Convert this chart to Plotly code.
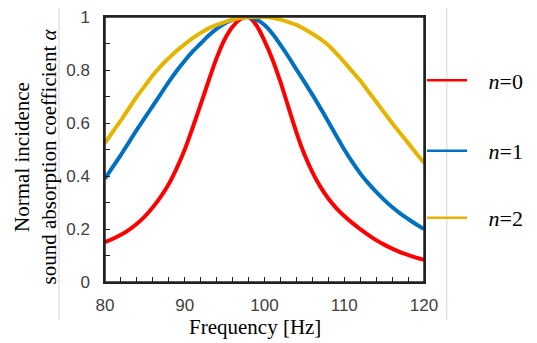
import plotly.graph_objects as go

freq = list(range(80, 121))
alpha_n0 = [0.150, 0.163, 0.178, 0.197, 0.220, 0.248, 0.282, 0.322, 0.370, 0.430,
            0.500, 0.583, 0.670, 0.760, 0.845, 0.915, 0.963, 0.992, 1.000, 0.968,
            0.910, 0.840, 0.755, 0.660, 0.565, 0.482, 0.415, 0.360, 0.315, 0.279,
            0.249, 0.223, 0.200, 0.178, 0.158, 0.141, 0.126, 0.113, 0.102, 0.092,
            0.084]
alpha_n1 = [0.390, 0.435, 0.480, 0.527, 0.575, 0.620, 0.665, 0.710, 0.755, 0.797,
            0.835, 0.870, 0.900, 0.930, 0.955, 0.975, 0.990, 0.998, 0.999, 0.990,
            0.970, 0.937, 0.895, 0.850, 0.802, 0.755, 0.707, 0.657, 0.605, 0.552,
            0.500, 0.453, 0.410, 0.373, 0.340, 0.310, 0.283, 0.259, 0.238, 0.218,
            0.200]
alpha_n2 = [0.525, 0.568, 0.610, 0.655, 0.700, 0.740, 0.780, 0.815, 0.845, 0.873,
            0.897, 0.920, 0.940, 0.957, 0.970, 0.981, 0.990, 0.996, 0.999, 1.000,
            1.000, 0.997, 0.990, 0.981, 0.970, 0.955, 0.937, 0.917, 0.893, 0.863,
            0.830, 0.795, 0.760, 0.720, 0.680, 0.640, 0.600, 0.562, 0.525, 0.487,
            0.450]

series_names = ["\u00a0\u00a0\u00a0<i>n</i>=0", "\u00a0\u00a0\u00a0<i>n</i>=1",
                "\u00a0\u00a0\u00a0<i>n</i>=2"]
series_values = [alpha_n0, alpha_n1, alpha_n2]
colors = ["#FF0000", "#0070C0", "#E5B400"]

x_ticks = [80, 90, 100, 110, 120]
y_ticks = [0, 0.2, 0.4, 0.6, 0.8, 1]

W, H = 537, 343
OFF = 8  # page body margin
# target plot area in page pixels
PL, PR, PT, PB = 105, 424, 17, 282
L = PL - OFF
T = PT - OFF
R = W - (PR - OFF)
B = H - (PB - OFF)
pw, ph = PR - PL, PB - PT


def px_x(p):
    return (p - PL) / pw


def px_y(p):
    return (PB - p) / ph


fig = go.Figure()
legend_ids = ["legend", "legend2", "legend3"]
legend_py = [79.5, 150, 217]

for name, vals, col, lid in zip(series_names, series_values, colors, legend_ids):
    fig.add_trace(go.Scatter(x=freq, y=vals, mode="lines",
                             line=dict(color=col, width=4, shape="spline", smoothing=1),
                             showlegend=False, hoverinfo="skip"))
    fig.add_trace(go.Scatter(x=[None], y=[None], mode="lines", name=name,
                             line=dict(color=col, width=2.5),
                             showlegend=True, legend=lid))

legend_common = dict(
    xref="paper", yref="paper", xanchor="left", yanchor="middle",
    bgcolor="rgba(0,0,0,0)", borderwidth=0,
    font=dict(family="Liberation Serif", size=22, color="#000000"),
    itemwidth=40,
)
layout_legends = {}
for lid, py in zip(legend_ids, legend_py):
    layout_legends[lid] = dict(x=px_x(422), y=px_y(py + 1), **legend_common)

tick_font = dict(family="Liberation Sans", size=17, color="#404040")

fig.update_layout(
    width=W, height=H,
    margin=dict(l=L, r=R, t=T, b=B, autoexpand=False),
    paper_bgcolor="white", plot_bgcolor="white",
    showlegend=True,
    xaxis=dict(range=[80, 120], tickvals=x_ticks, ticks="inside", ticklen=5,
               tickwidth=1.2, tickcolor="#222", showline=True, linecolor="#222",
               linewidth=1.5, mirror=True, showgrid=False, zeroline=False,
               tickfont=tick_font, ticklabelstandoff=7, ticklabeloverflow="allow",
               minor=dict(dtick=2, ticks="inside", ticklen=5, tickcolor="#222",
                          tickwidth=1.2, showgrid=False)),
    yaxis=dict(range=[0, 1], tickvals=y_ticks, ticks="inside", ticklen=5,
               tickwidth=1.2, tickcolor="#222", showline=True, linecolor="#222",
               linewidth=1.5, mirror=True, showgrid=False, zeroline=False,
               tickfont=tick_font, ticklabelstandoff=10, ticklabeloverflow="allow",
               minor=dict(dtick=0.1, ticks="inside", ticklen=5, tickcolor="#222",
                          tickwidth=1.2, showgrid=False)),
    annotations=[
        dict(text="Frequency [Hz]", xref="paper", yref="paper",
             x=px_x(254.5), y=px_y(327), xanchor="center", yanchor="middle",
             showarrow=False,
             font=dict(family="Liberation Serif", size=21, color="#000000")),
        dict(text="Normal incidence<br>sound absorption coefficient <i>α</i>",
             xref="paper", yref="paper", x=px_x(35), y=px_y(156.5),
             xanchor="center", yanchor="middle", textangle=-90, align="center",
             showarrow=False,
             font=dict(family="Liberation Serif", size=21, color="#000000")),
    ],
    shapes=[
        dict(type="line", xref="paper", yref="paper", x0=px_x(59), x1=px_x(59),
             y0=px_y(0), y1=px_y(320), line=dict(color="#E3E3E3", width=1.5)),
        dict(type="line", xref="paper", yref="paper", x0=px_x(446.7), x1=px_x(446.7),
             y0=px_y(0), y1=px_y(320), line=dict(color="#E3E3E3", width=1.5)),
        dict(type="rect", xref="paper", yref="paper", x0=0, x1=1, y0=0, y1=1,
             layer="above", line=dict(color="#222", width=1.5)),
    ],
    **layout_legends,
)

fig.write_html("out.html")
